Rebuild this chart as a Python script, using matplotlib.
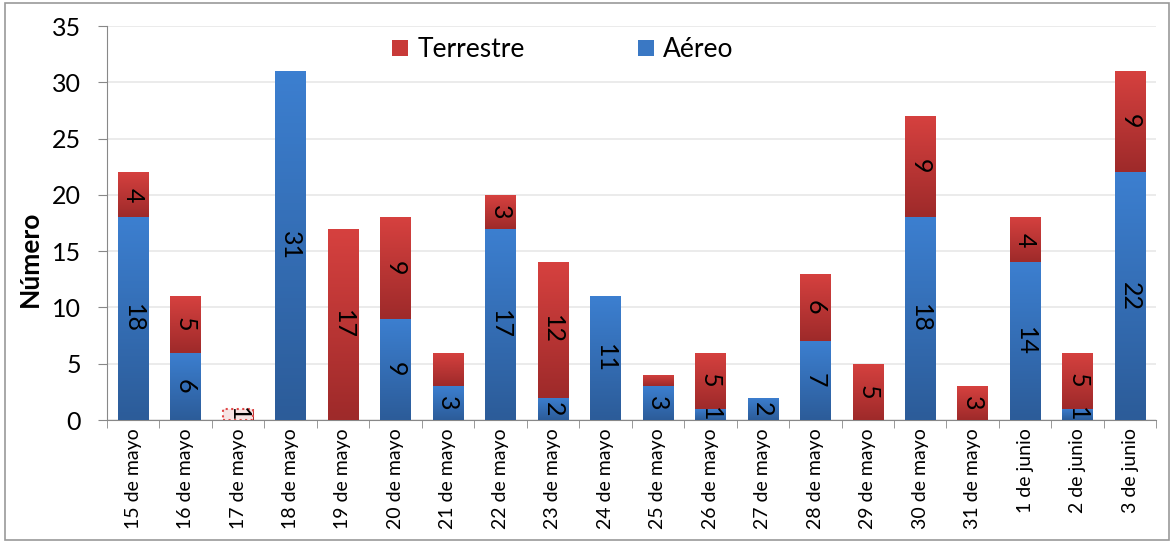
import numpy as np
import matplotlib.pyplot as plt
from matplotlib.colors import LinearSegmentedColormap
from matplotlib.patches import Rectangle

plt.rcParams['font.family'] = ['Lato', 'DejaVu Sans']

# datos
fechas = ["15 de mayo", "16 de mayo", "17 de mayo", "18 de mayo", "19 de mayo",
          "20 de mayo", "21 de mayo", "22 de mayo", "23 de mayo", "24 de mayo",
          "25 de mayo", "26 de mayo", "27 de mayo", "28 de mayo", "29 de mayo",
          "30 de mayo", "31 de mayo", "1 de junio", "2 de junio", "3 de junio"]
aereo = [18, 6, 0, 31, 0, 9, 3, 17, 2, 11, 3, 1, 2, 7, 0, 18, 0, 14, 1, 22]
terrestre = [4, 5, 1, 0, 17, 9, 3, 3, 12, 0, 1, 5, 0, 6, 5, 9, 3, 4, 5, 9]
# etiquetas que se muestran en el grafico (None = sin etiqueta)
etq_aereo = [18, 6, None, 31, None, 9, 3, 17, 2, 11, 3, 1, 2, 7, None, 18, None, 14, 1, 22]
etq_terrestre = [4, 5, 1, None, 17, 9, None, 3, 12, None, None, 5, None, 6, 5, 9, 3, 4, 5, 9]

azul = LinearSegmentedColormap.from_list("azul", ["#2c5c99", "#3c7fd0"])
rojo = LinearSegmentedColormap.from_list("rojo", ["#9e2a2a", "#d6413f"])

fig = plt.figure(figsize=(11.74, 5.42), dpi=100)
ax = fig.add_axes([0.091, 0.225, 0.894, 0.727])

x = np.arange(len(fechas))
ancho = 0.58
barras_a = ax.bar(x, aereo, ancho, color="#3a78c4", zorder=2)
barras_t = ax.bar(x, terrestre, ancho, bottom=aereo, color="#c83a38", zorder=2)

# degradado vertical en cada barra
grad = np.linspace(0, 1, 100).reshape(-1, 1)
for barras, cmap in [(barras_a, azul), (barras_t, rojo)]:
    for p in barras:
        if p.get_height() <= 0:
            continue
        x0, y0 = p.get_x(), p.get_y()
        im = ax.imshow(grad, cmap=cmap, origin="lower", aspect="auto",
                       extent=[x0, x0 + p.get_width(), y0, y0 + p.get_height()],
                       zorder=3)
        im.set_clip_path(p)

# barra del 17 de mayo (seleccionada)
p17 = barras_t[2]
ax.add_patch(Rectangle((p17.get_x(), p17.get_y()), p17.get_width(), p17.get_height(),
                       facecolor="#f6e4e4", edgecolor="#e04848", linestyle=":",
                       linewidth=1.5, zorder=4))

# etiquetas
for i in range(len(fechas)):
    if etq_aereo[i] is not None:
        ax.text(x[i], aereo[i] / 2, str(etq_aereo[i]), rotation=270,
                ha="center", va="center", fontsize=18, zorder=5)
    if etq_terrestre[i] is not None:
        ax.text(x[i], aereo[i] + terrestre[i] / 2, str(etq_terrestre[i]),
                rotation=270, ha="center", va="center", fontsize=18, zorder=5)

ax.set_xlim(-0.5, len(fechas) - 0.5)
ax.set_ylim(0, 35)
ax.set_yticks(range(0, 36, 5))
ax.tick_params(axis="y", labelsize=18, colors="#888888", labelcolor="black",
               length=6.5, direction="out", pad=12)
ax.set_xticks(x)
ax.set_xticklabels(fechas, rotation=90, fontsize=14)
ax.tick_params(axis="x", length=0, pad=6)
ax.set_xticks(np.arange(-0.5, len(fechas), 1), minor=True)
ax.tick_params(axis="x", which="minor", length=6, colors="#888888")
ax.yaxis.grid(True, color="#e8e8e8", linewidth=1.2, zorder=0)
ax.set_axisbelow(True)
for s in ["top", "right"]:
    ax.spines[s].set_visible(False)
ax.spines["left"].set_color("#888888")
ax.spines["bottom"].set_color("#888888")
ax.set_ylabel("Número", fontsize=19, fontweight="bold")
ax.yaxis.set_label_coords(-0.062, 0.41)

# leyenda
h_t = Rectangle((0, 0), 1, 1, facecolor="#c83a38")
h_a = Rectangle((0, 0), 1, 1, facecolor="#3a78c4")
fig.legend([h_t, h_a], ["Terrestre", "Aéreo"], ncol=2, frameon=False,
           fontsize=19, loc="center left", bbox_to_anchor=(0.323, 0.908),
           borderpad=0, handlelength=0.6, handleheight=0.6, handletextpad=0.35,
           columnspacing=4.3)

# borde de la figura
fig.patches.append(Rectangle((0.004, 0.004), 0.992, 0.99, transform=fig.transFigure,
                             fill=False, edgecolor="#999999", linewidth=1.2))

fig.savefig("out.png", dpi=100)
